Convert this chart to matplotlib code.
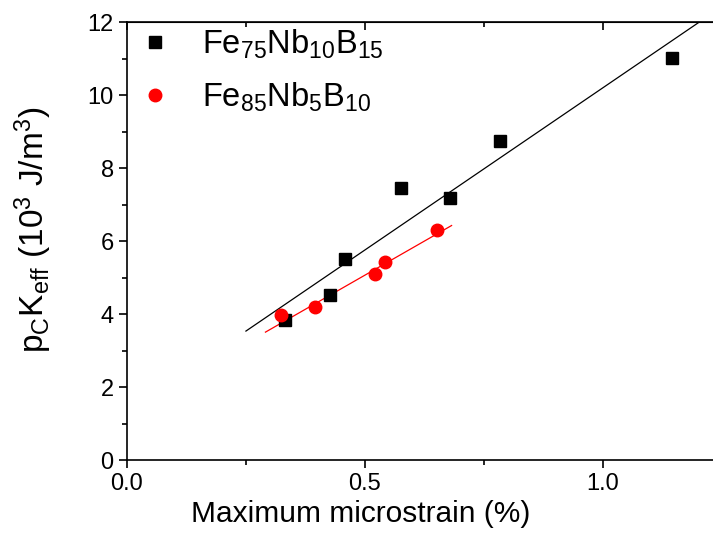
import numpy as np
import matplotlib.pyplot as plt

plt.rcParams['font.family'] = ['Liberation Sans', 'DejaVu Sans']
plt.rcParams['mathtext.fontset'] = 'custom'
plt.rcParams['mathtext.rm'] = 'Liberation Sans'
plt.rcParams['mathtext.it'] = 'Liberation Sans'
plt.rcParams['mathtext.default'] = 'regular'

# Fe75Nb10B15 data
x_a = [0.332, 0.426, 0.458, 0.575, 0.679, 0.784, 1.146]
y_a = [3.84, 4.52, 5.51, 7.44, 7.17, 8.74, 11.02]
# Fe85Nb5B10 data
x_b = [0.323, 0.396, 0.522, 0.543, 0.651]
y_b = [3.97, 4.18, 5.09, 5.43, 6.30]

# linear fits (slope, intercept, x range)
fit_a = (8.89, 1.31, 0.25, 1.30)
fit_b = (7.47, 1.33, 0.291, 0.682)

labels = ['Fe$_{75}$Nb$_{10}$B$_{15}$', 'Fe$_{85}$Nb$_{5}$B$_{10}$']

fig = plt.figure(figsize=(7.13, 5.41), dpi=100)
# axes runs past the right edge of the picture (right spine not visible)
ax = fig.add_axes([0.178, 0.1497, 0.868, 0.8096])

ax.plot(x_a, y_a, 's', color='black', markersize=8, label=labels[0], zorder=3)
ax.plot(x_b, y_b, 'o', color='red', markersize=9, label=labels[1], zorder=3)

for (k, b, x0, x1), c in [(fit_a, 'black'), (fit_b, 'red')]:
    xx = np.array([x0, x1])
    ax.plot(xx, k * xx + b, '-', color=c, linewidth=0.9, zorder=2)

ax.set_xlim(0, 1.3)
ax.set_ylim(0, 12)
ax.set_xticks([0.0, 0.5, 1.0])
ax.set_xticklabels(['0.0', '0.5', '1.0'])
ax.set_xticks([0.25, 0.75, 1.25], minor=True)
ax.set_yticks(range(0, 13, 2))
ax.set_yticks(range(1, 12, 2), minor=True)

ax.tick_params(which='both', direction='out', labelsize=17, width=1.2)
ax.tick_params(which='major', length=6)
ax.tick_params(which='minor', length=3.5)
for s in ax.spines.values():
    s.set_linewidth(1.2)

# top ticks point inward
ax2 = ax.secondary_xaxis('top')
ax2.set_xticks([0.0, 0.5, 1.0])
ax2.set_xticks([0.25, 0.75, 1.25], minor=True)
ax2.tick_params(which='both', direction='in', labeltop=False, width=1.2)
ax2.tick_params(which='major', length=6)
ax2.tick_params(which='minor', length=3.5)

ax.set_xlabel('Maximum microstrain (%)', fontsize=21.5)
ax.xaxis.set_label_coords(0.378, -0.092, transform=ax.transAxes)
ax.xaxis.label.set_va('top')
ax.set_ylabel('p$_C$K$_{eff}$ (10$^3$ J/m$^3$)', fontsize=24)
ax.yaxis.set_label_coords(-0.118, 0.525, transform=ax.transAxes)

ax.legend(loc='upper left', fontsize=23.5, frameon=False, handletextpad=0.85,
          labelspacing=0.6, bbox_to_anchor=(-0.002, 1.009), borderaxespad=0,
          borderpad=0.3, handlelength=1.2)

fig.savefig('out.png', dpi=100)
